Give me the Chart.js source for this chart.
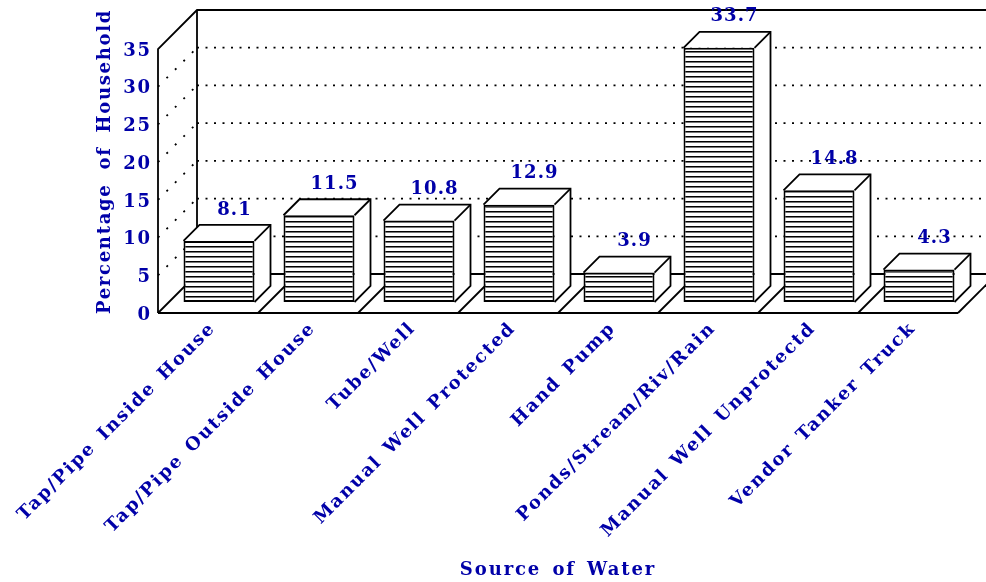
<!DOCTYPE html>
<html><head><meta charset="utf-8">
<style>html,body{margin:0;padding:0;background:#fff}canvas{display:block}</style>
<script src="https://cdn.jsdelivr.net/npm/chart.js@4"></script></head>
<body><canvas id="c" width="986" height="582"></canvas>
<script>
const categories = ["Tap/Pipe Inside House","Tap/Pipe Outside House","Tube/Well","Manual Well Protected","Hand Pump","Ponds/Stream/Riv/Rain","Manual Well Unprotectd","Vendor Tanker Truck"];
const values = [8.1,11.5,10.8,12.9,3.9,33.7,14.8,4.3];
const yTitle = "Percentage of Household";
const xTitle = "Source of Water";
const BLUE = "#0000a8";
const FONT = {family:"'DejaVu Serif'",weight:"bold",size:18};
const WALL = 39, SHIFT = 11, BAR_DEPTH = 16, W = 986;

function hatch(){
  const p=document.createElement('canvas');p.width=4;p.height=5;
  const x=p.getContext('2d');
  x.fillStyle='#fff';x.fillRect(0,0,4,5);
  x.fillStyle='#000';x.fillRect(0,2,4,1);
  x.fillStyle='#777';x.fillRect(0,3,4,1);
  return x.createPattern(p,'repeat');
}
const ctx0=document.getElementById('c').getContext('2d');
function line(c,pts,dash,w){
  c.save();c.beginPath();c.setLineDash(dash||[]);c.lineWidth=w||1.8;c.strokeStyle='#000';
  pts.forEach((p,i)=>i?c.lineTo(p[0],p[1]):c.moveTo(p[0],p[1]));c.stroke();c.restore();
}
const scene={
  id:'scene',
  beforeDraw(ch){
    const c=ch.ctx;c.letterSpacing="1.9px";c.wordSpacing="3px";
    c.save();c.fillStyle='#fff';c.fillRect(0,0,ch.width,ch.height);c.restore();
  },
  beforeDatasetsDraw(ch){
    const c=ch.ctx,xs=ch.scales.x,ys=ch.scales.y;
    const L=xs.left,R=xs.right,y0=ys.getPixelForValue(0),top=ys.getPixelForValue(35);
    ys.ticks.forEach(t=>{
      if(t.value===0||t.value===35)return;
      const y=ys.getPixelForValue(t.value);
      line(c,[[L,y],[L+WALL,y-WALL]],[2,10]);
      line(c,[[L+WALL,y-WALL],[W,y-WALL]],[2,6.5]);
    });
    line(c,[[L,y0],[L,top],[L+WALL,top-WALL],[W,top-WALL]]);
    line(c,[[L+WALL,top-WALL],[L+WALL,y0-WALL],[W,y0-WALL]]);
    line(c,[[L,y0],[R,y0]]);
    for(let i=0;i<=categories.length;i++){
      const x=L+(R-L)*i/categories.length;
      line(c,[[x,y0],[x+WALL,y0-WALL]]);
    }
    const d=BAR_DEPTH;
    ch.getDatasetMeta(0).data.forEach(b=>{
      const l=b.x-b.width/2+SHIFT,r=b.x+b.width/2+SHIFT,t=b.y-SHIFT,bt=b.base-SHIFT;
      c.save();c.fillStyle='#fff';c.beginPath();
      c.moveTo(l,t);c.lineTo(l+d,t-d);c.lineTo(r+d,t-d);c.lineTo(r+d,bt-d);c.lineTo(r,bt);c.lineTo(r,t);c.closePath();c.fill();c.restore();
      line(c,[[l,t],[l+d,t-d],[r+d,t-d],[r+d,bt-d],[r,bt]]);
      line(c,[[r,t],[r+d,t-d]]);
    });
    c.save();c.translate(SHIFT,-SHIFT);
  },
  afterDatasetsDraw(ch){
    const c=ch.ctx;c.restore();
    c.save();
    c.fillStyle=BLUE;
    c.textAlign='center';c.textBaseline='middle';
    c.font=`bold 18px ${FONT.family}`;c.letterSpacing="1px";
    ch.getDatasetMeta(0).data.forEach((b,i)=>{
      c.fillText(values[i].toFixed(1),b.x+SHIFT+15.5,b.y-SHIFT-BAR_DEPTH-15);
    });
    c.font=`${FONT.weight} ${FONT.size}px ${FONT.family}`;c.letterSpacing="1.7px";c.wordSpacing="6px";
    c.translate(105,161.5);c.rotate(-Math.PI/2);
    c.fillText(yTitle,0,0);
    c.restore();
  }
};
new Chart(ctx0,{
  type:'bar',
  data:{labels:categories,datasets:[{data:values,backgroundColor:hatch(),borderColor:'#000',borderWidth:2,borderSkipped:false,clip:false,
    barPercentage:1,categoryPercentage:0.71}]},
  plugins:[scene],
  options:{
    responsive:false,animation:false,
    layout:{padding:{top:49,right:28,left:0,bottom:0}},
    plugins:{legend:{display:false},tooltip:{enabled:false}},
    scales:{
      x:{
        grid:{display:false,drawTicks:false},border:{display:false},
        afterFit(s){s.height=269;},
        ticks:{autoSkip:false,minRotation:45,maxRotation:45,color:BLUE,font:FONT,padding:5,labelOffset:5},
        title:{display:true,text:xTitle,color:BLUE,font:FONT,padding:{top:0,bottom:1}}
      },
      y:{
        min:0,max:35,
        grid:{display:false,drawTicks:false},border:{display:false},
        afterFit(s){s.width=158;},
        ticks:{stepSize:5,color:BLUE,font:FONT,padding:6,labelOffset:2}
      }
    }
  }
});
</script></body></html>
